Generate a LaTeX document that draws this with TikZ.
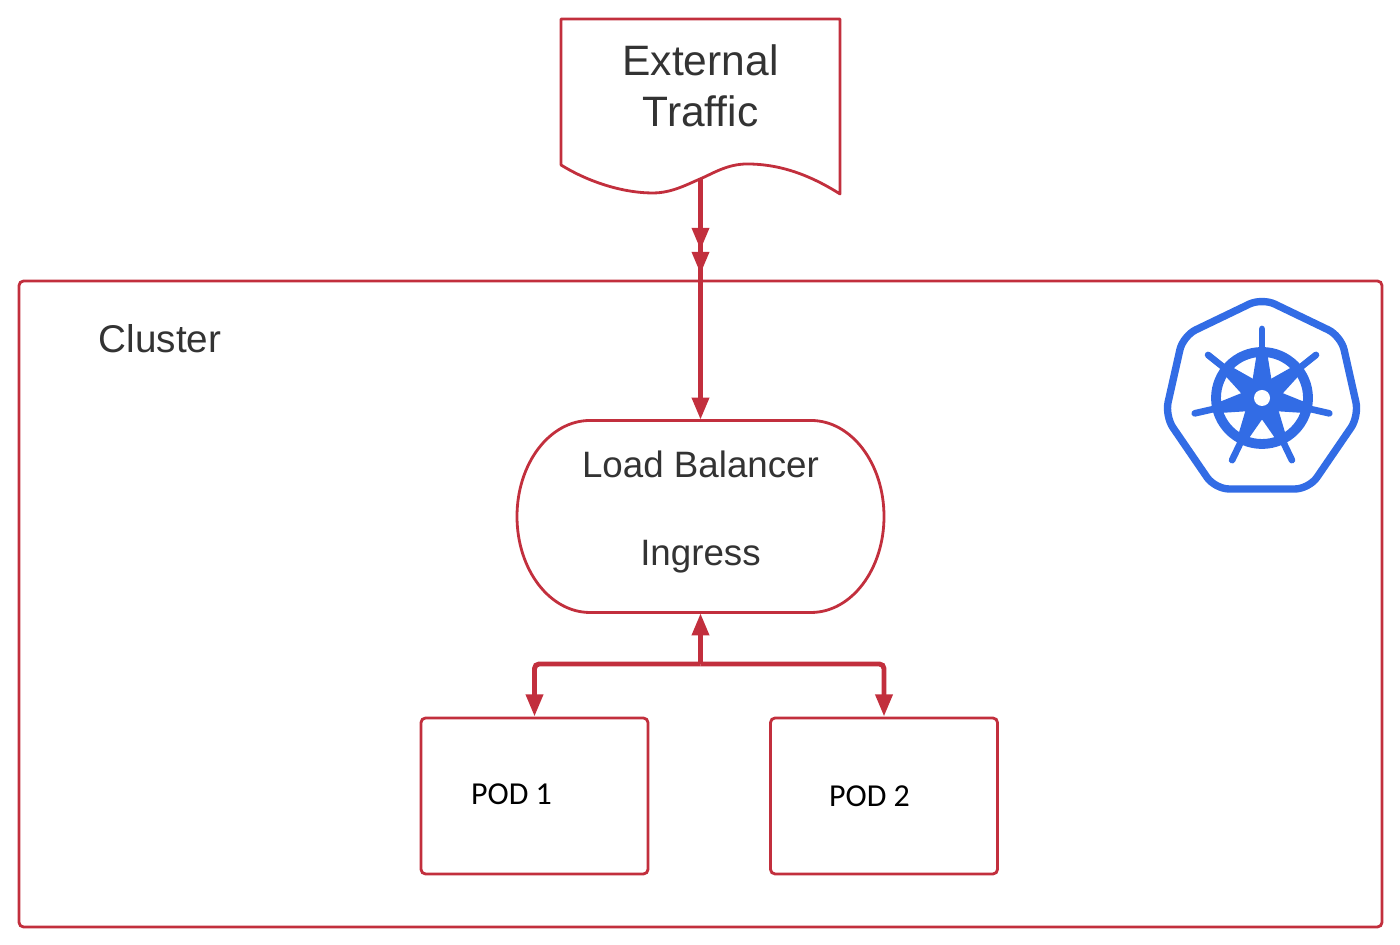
\documentclass[tikz,border=0pt]{standalone}
\usepackage{fontspec}
\setmainfont{Liberation Sans}
\newfontfamily\podfont{Carlito}
\usetikzlibrary{arrows.meta}
\definecolor{crimson}{HTML}{C22F3D}
\definecolor{inkgrey}{HTML}{333333}
\definecolor{kubeblue}{HTML}{326CE5}
\tikzset{
  outline/.style={draw=crimson,line width=0.8pt},
  podbox/.style={outline,rectangle,rounded corners=1.3pt,minimum width=2.27cm,minimum height=1.56cm},
  flow/.style={draw=crimson,line width=1.4pt,-{Triangle[width=4.7pt,length=6.3pt]}},
  caption/.style={text=inkgrey,inner sep=0pt},
  podtext/.style={inner sep=0pt,font=\podfont\fontsize{9.1}{11}\selectfont}
}
\begin{document}
\begin{tikzpicture}
  \useasboundingbox (0,0) rectangle (14,9.45);
  % frame and captions
  \node[outline,rectangle,rounded corners=1.3pt,minimum width=13.63cm,minimum height=6.46cm] (cluster) at (7.005,3.41) {};
  \node[caption,font=\fontsize{11}{13}\selectfont] (clustertext) at (1.60,6.06) {Cluster};
  \node[caption,align=center,font=\fontsize{12.1}{14.5}\selectfont] (traffic) at (7.005,8.59) {External\\Traffic};
  \draw[outline,line join=round] (5.61,7.80) -- (5.61,9.26) -- (8.40,9.26) -- (8.40,7.51)
    .. controls (8.10,7.70) and (7.80,7.81) .. (7.47,7.81)
    .. controls (7.27,7.81) and (7.12,7.71) .. (7.00,7.66)
    .. controls (6.88,7.61) and (6.72,7.52) .. (6.53,7.52)
    .. controls (6.20,7.52) and (5.85,7.65) .. (5.61,7.80) -- cycle;
  % load balancer
  \node[minimum width=3.67cm,minimum height=1.92cm,inner sep=0pt] (lb) at (7.005,4.285) {};
  \draw[outline] (5.90,5.245) arc(90:180:0.73 and 0.96) arc(180:270:0.73 and 0.96) -- (8.11,3.325)
    arc(-90:0:0.73 and 0.96) arc(0:90:0.73 and 0.96) -- cycle;
  \node[caption,font=\fontsize{10.45}{12}\selectfont] (lbtop) at (7.005,4.81) {Load Balancer};
  \node[caption,font=\fontsize{10.45}{12}\selectfont] (lbbottom) at (7.005,3.88) {Ingress};
  % pods
  \node[podbox] (pod1) at (5.345,1.49) {};
  \node[podbox] (pod2) at (8.84,1.49) {};
  \node[podtext] (podtext1) at (5.115,1.51) {POD 1};
  \node[podtext] (podtext2) at (8.695,1.49) {POD 2};
  % connectors
  \coordinate (docfoot) at (7.005,7.66);
  \coordinate (gate1) at (7.005,6.95);
  \coordinate (gate2) at (7.005,6.71);
  \coordinate (split) at (7.005,2.81);
  \draw[flow] (docfoot) -- (gate1);
  \draw[flow] (docfoot) -- (gate2);
  \draw[flow] (gate1) -- (lb.north);
  \draw[flow] (split) -- (lb.south);
  \draw[flow,rounded corners=1.3pt] (split) -| (pod1.north);
  \draw[flow,rounded corners=1.3pt] (split) -| (pod2.north);
  % logo
  \draw[kubeblue,line width=2.1pt,line join=round,rounded corners=4pt] (12.62,6.47) -- (13.41,6.09) -- (13.59,5.29) -- (13.09,4.56)
    -- (12.15,4.56) -- (11.65,5.29) -- (11.83,6.09) -- cycle;
  \begin{scope}[shift={(12.62,5.47)}]
    \draw[kubeblue,line width=2.8pt] (0,0) circle(0.46);
    \fill[kubeblue] (0,0) circle(0.18);
    \foreach \ang in {90,141.43,192.86,244.29,295.71,347.14,38.57} {
      \fill[kubeblue,rotate=\ang] (0.46,-0.05) -- (0.46,0.05) -- (0.15,0.10) -- (0.15,-0.10) -- cycle;
      \draw[kubeblue,rotate=\ang,line width=1.9pt,line cap=round] (0.46,0) -- (0.69,0);
    }
    \fill[white] (0,0) circle(0.08);
  \end{scope}
\end{tikzpicture}
\end{document}
